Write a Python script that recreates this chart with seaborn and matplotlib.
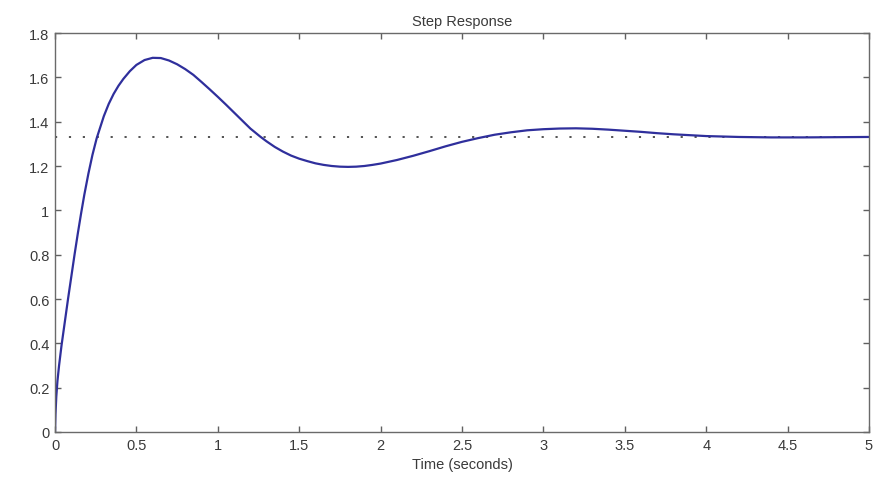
import matplotlib
matplotlib.use("Agg")
import matplotlib.pyplot as plt
from matplotlib.ticker import FuncFormatter
import seaborn as sns
import pandas as pd

# Values
time_s = [0.0, 0.003, 0.008, 0.015, 0.025, 0.04, 0.06, 0.08, 0.10, 0.12,
          0.14, 0.16, 0.18, 0.205, 0.23, 0.256, 0.30, 0.33, 0.36, 0.39,
          0.42, 0.46, 0.50, 0.55, 0.60, 0.65, 0.70, 0.75, 0.80, 0.85, 0.90,
          0.95, 1.00, 1.05, 1.10, 1.15, 1.20, 1.26, 1.30, 1.35, 1.40,
          1.45, 1.50, 1.55, 1.60, 1.65, 1.70, 1.75, 1.80, 1.85, 1.90,
          1.95, 2.00, 2.10, 2.20, 2.30, 2.40, 2.50, 2.60, 2.70, 2.80,
          2.90, 3.00, 3.10, 3.20, 3.30, 3.40, 3.50, 3.60, 3.70, 3.80,
          3.90, 4.00, 4.20, 4.40, 4.60, 4.80, 5.00]
response = [0.0, 0.08, 0.16, 0.23, 0.30, 0.39, 0.495, 0.60, 0.70, 0.80,
            0.895, 0.985, 1.07, 1.165, 1.25, 1.325, 1.425, 1.48, 1.525, 1.562,
            1.593, 1.628, 1.656, 1.678, 1.688, 1.687, 1.676, 1.659, 1.637, 1.611, 1.579,
            1.546, 1.512, 1.477, 1.441, 1.405, 1.369, 1.333, 1.311, 1.286, 1.265,
            1.247, 1.233, 1.222, 1.212, 1.205, 1.200, 1.197, 1.196, 1.197, 1.200,
            1.205, 1.211, 1.227, 1.246, 1.267, 1.289, 1.309, 1.326, 1.341, 1.352,
            1.361, 1.366, 1.369, 1.370, 1.368, 1.364, 1.359, 1.354, 1.348, 1.343,
            1.339, 1.335, 1.331, 1.329, 1.329, 1.330, 1.331]
steady_state = 1.333
x_ticks = [0, 0.5, 1, 1.5, 2, 2.5, 3, 3.5, 4, 4.5, 5]
y_ticks = [0, 0.2, 0.4, 0.6, 0.8, 1.0, 1.2, 1.4, 1.6, 1.8]
title_text = "Step Response"
xlabel_text = "Time (seconds)"

sns.set_style("white")
plt.rcParams['font.family'] = ['Liberation Sans', 'DejaVu Sans']

df = pd.DataFrame({"t": time_s, "y": response})

fig = plt.figure(figsize=(8.75, 4.85), dpi=100)
ax = fig.add_axes([55 / 875, 52 / 485, 814 / 875, 399 / 485])

ax.axhline(steady_state, color="#444444", linestyle=(0, (1.2, 6.5)), linewidth=1.3, zorder=1)
sns.lineplot(data=df, x="t", y="y", ax=ax, color="#2f2f9c", linewidth=1.6,
             estimator=None, sort=False, zorder=2)

ax.set_xlim(0, 5)
ax.set_ylim(0, 1.8)
ax.set_xticks(x_ticks)
ax.set_yticks(y_ticks)
ax.xaxis.set_major_formatter(FuncFormatter(lambda v, p: f"{v:g}"))
ax.yaxis.set_major_formatter(FuncFormatter(lambda v, p: f"{v:g}"))

txt_color = "#3a3a3a"
ax.tick_params(direction="in", length=4, width=1, colors="#606060",
               labelcolor=txt_color, labelsize=10.5, top=True, right=True,
               bottom=True, left=True, pad=4)
for s in ax.spines.values():
    s.set_color("#6a6a6a")
    s.set_linewidth(1.0)
    s.set_visible(True)

ax.set_title(title_text, fontsize=10.5, color=txt_color, pad=6)
ax.set_xlabel(xlabel_text, fontsize=10.5, color=txt_color, labelpad=4)
ax.set_ylabel("")

fig.savefig("out.png", dpi=100)
